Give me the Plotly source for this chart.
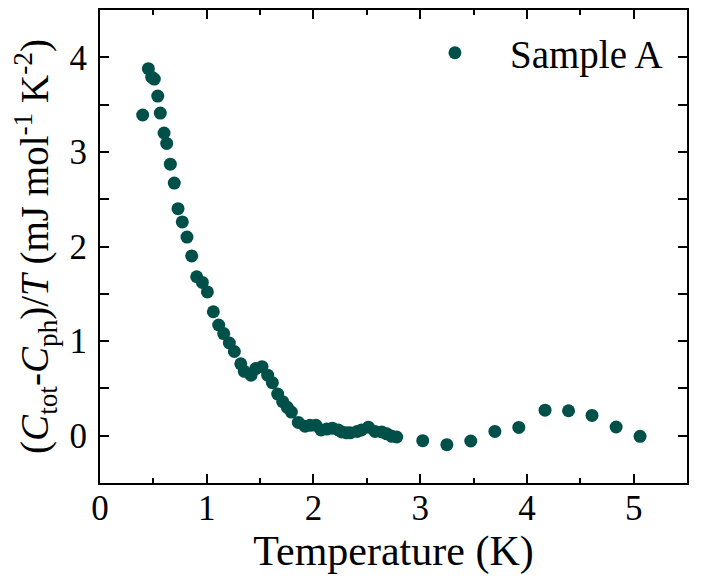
import plotly.graph_objects as go

temperature = [0.40, 0.453, 0.485, 0.509, 0.541, 0.565, 0.60, 0.625, 0.659, 0.696,
               0.731, 0.771, 0.815, 0.859, 0.906, 0.959, 1.006, 1.062, 1.112, 1.159,
               1.212, 1.259, 1.319, 1.352, 1.415, 1.459, 1.518, 1.571, 1.615, 1.665,
               1.712, 1.755, 1.793, 1.858, 1.921, 1.968, 2.024, 2.071, 2.125, 2.177,
               2.233, 2.265, 2.31, 2.343, 2.41, 2.45, 2.515, 2.577, 2.64, 2.687,
               2.734, 2.78, 3.024, 3.25, 3.474, 3.70, 3.924, 4.17, 4.39, 4.61,
               4.836, 5.06]
c_over_t = [3.39, 3.88, 3.79, 3.77, 3.59, 3.41, 3.20, 3.09, 2.87, 2.67,
            2.40, 2.26, 2.10, 1.90, 1.68, 1.62, 1.52, 1.31, 1.17, 1.08,
            0.98, 0.89, 0.76, 0.68, 0.64, 0.71, 0.73, 0.64, 0.56, 0.44,
            0.36, 0.30, 0.25, 0.14, 0.10, 0.11, 0.11, 0.06, 0.07, 0.08,
            0.06, 0.04, 0.03, 0.03, 0.045, 0.06, 0.09, 0.045, 0.04, 0.02,
            -0.007, -0.014, -0.053, -0.095, -0.056, 0.045, 0.088, 0.27, 0.264, 0.214,
            0.092, -0.007]

font = "Liberation Serif, Times New Roman, serif"
color = "#00504A"

fig = go.Figure()
fig.add_trace(go.Scatter(
    x=temperature, y=c_over_t, mode="markers", name="Sample A",
    marker=dict(size=13, color=color, line=dict(width=0)),
))

axis_common = dict(
    showline=True, linecolor="black", linewidth=2, mirror="allticks",
    ticks="inside", tickcolor="black", tickwidth=1.5, ticklen=9,
    showgrid=False, zeroline=False, automargin=False,
    tickfont=dict(family=font, size=35, color="black"),
)

fig.update_xaxes(
    range=[0, 5.5], dtick=1, tick0=0, ticklabelstandoff=-7,
    minor=dict(dtick=0.5, ticks="inside", ticklen=5, tickcolor="black", tickwidth=1.5, showgrid=False),
    title=dict(text="Temperature (K)", font=dict(family=font, size=42, color="black"), standoff=4),
    **axis_common,
)
fig.update_yaxes(
    range=[-0.5, 4.5], dtick=1, tick0=0, ticklabelstandoff=4,
    minor=dict(dtick=0.5, ticks="inside", ticklen=9, tickcolor="black", tickwidth=1.5, showgrid=False),
    title=dict(text="(<i>C</i><sub>tot</sub>-<i>C</i><sub>ph</sub>)/<i>T</i> (mJ mol<sup>-1</sup> K<sup>-2</sup>)",
               font=dict(family=font, size=39, color="black"), standoff=9),
    **axis_common,
)

fig.update_layout(
    width=706, height=584,
    margin=dict(l=92, r=27, t=2, b=109),
    plot_bgcolor="white", paper_bgcolor="white",
    showlegend=True,
    legend=dict(x=0.511, y=0.977, xanchor="left", yanchor="top",
                font=dict(family=font, size=39, color="black"),
                bgcolor="rgba(0,0,0,0)", itemwidth=100),
)

fig.write_html("out.html")
